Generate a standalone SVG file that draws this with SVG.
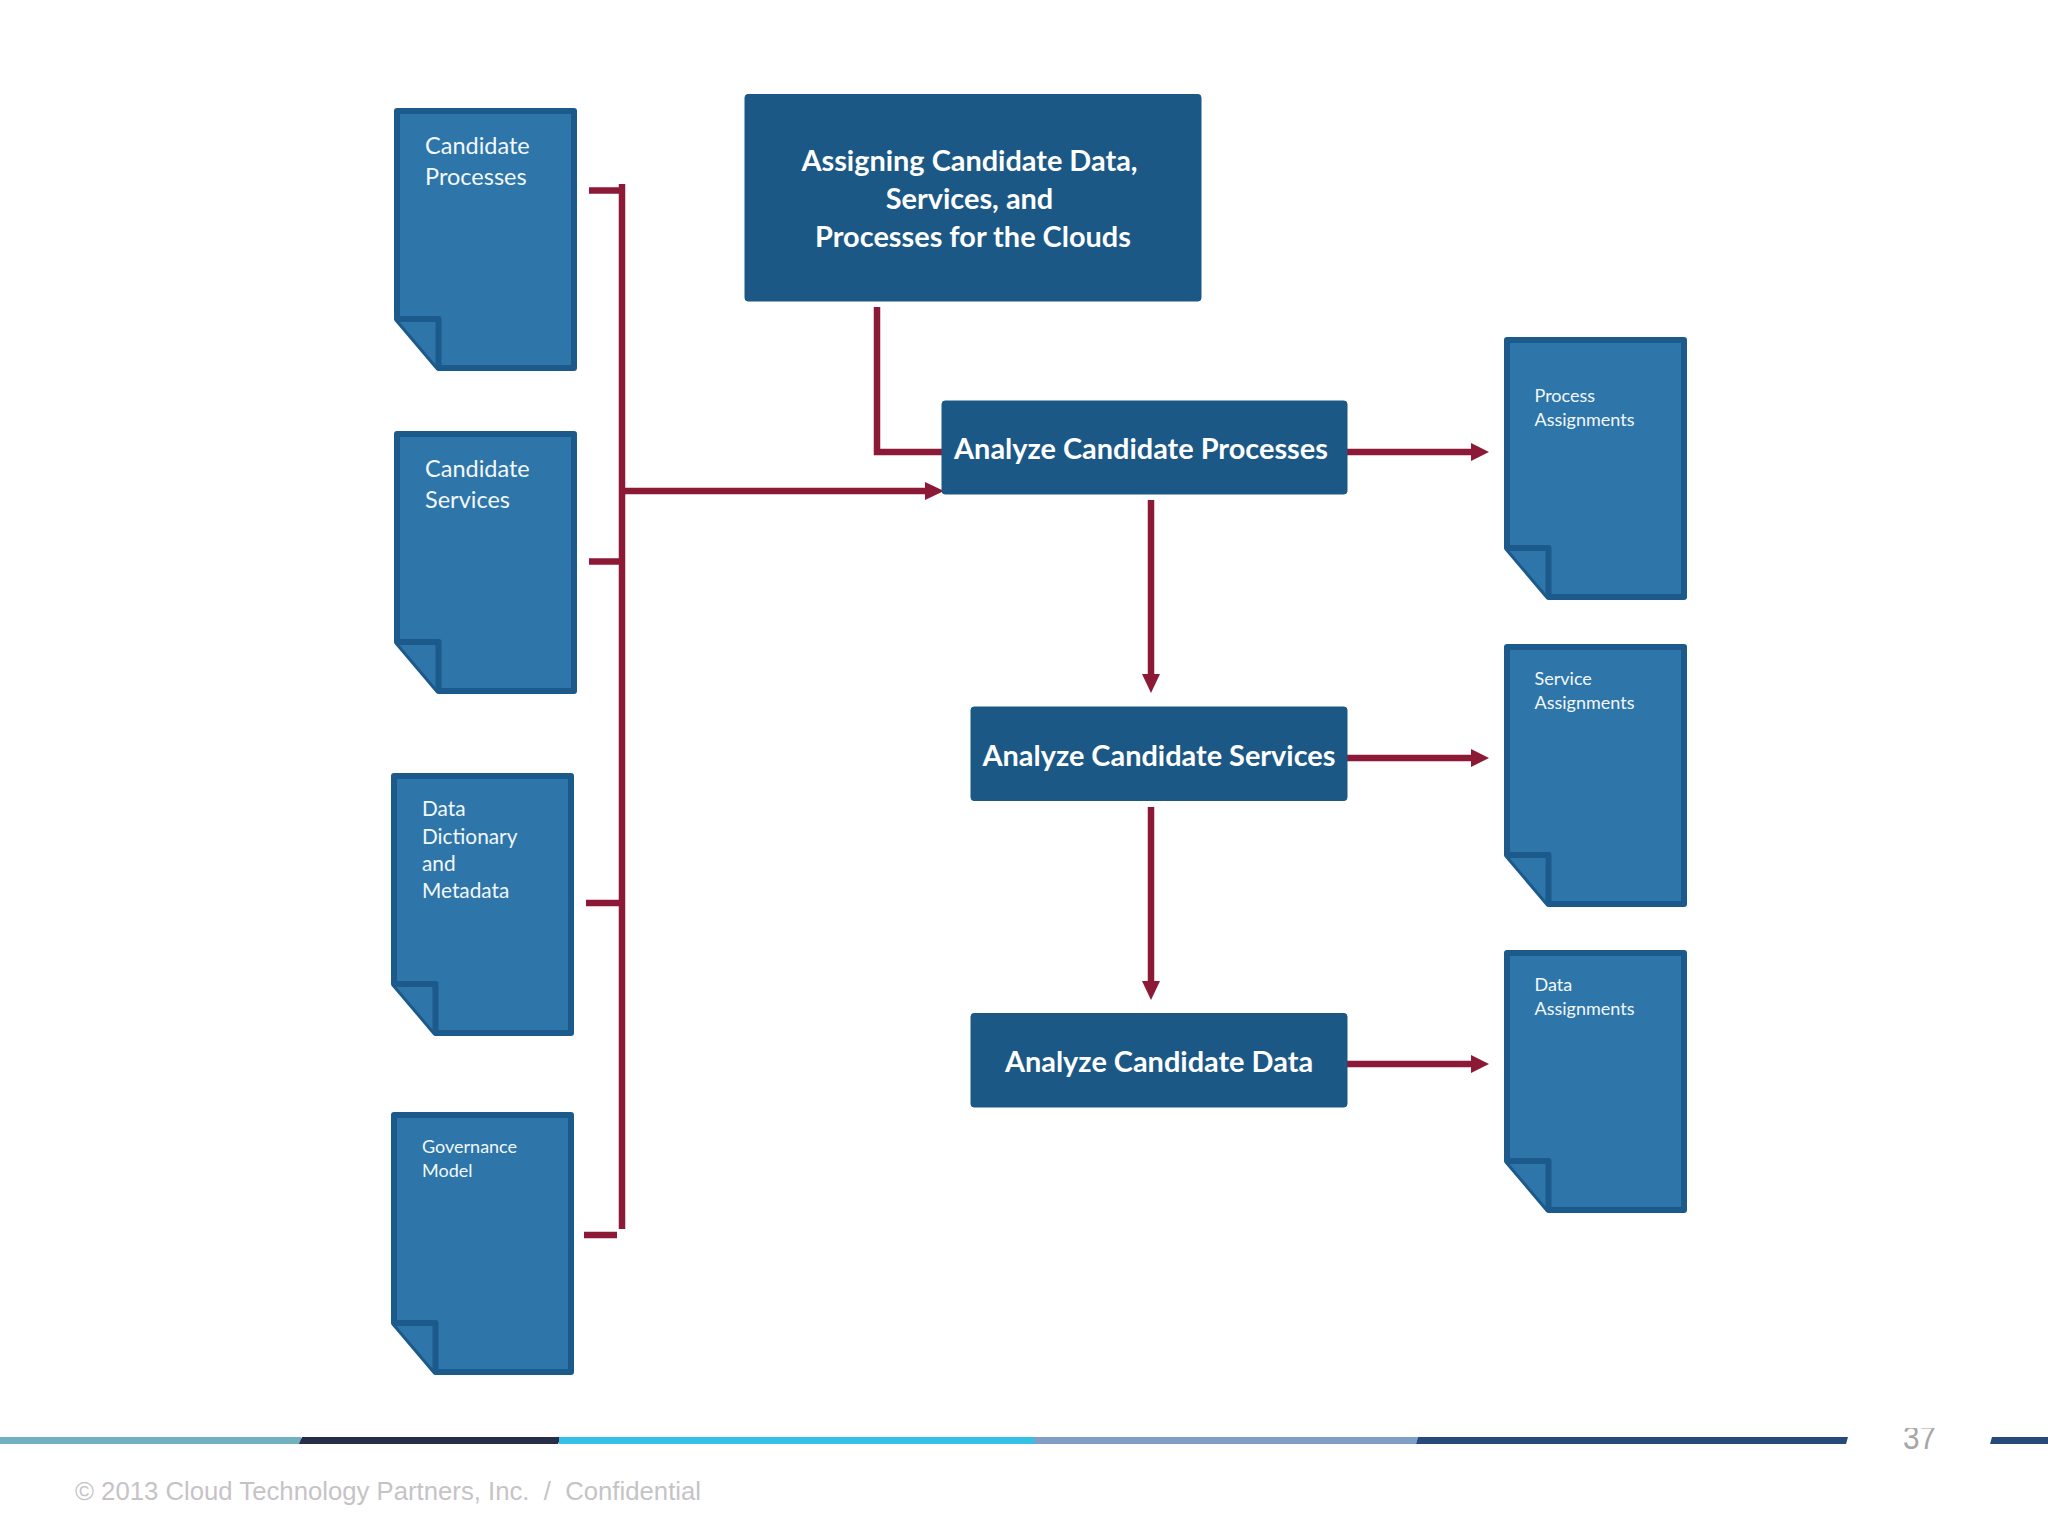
<svg xmlns="http://www.w3.org/2000/svg" width="2048" height="1536" viewBox="0 0 2048 1536">
<style>
.doc{fill:#2e75a9;stroke:#1c5a8b;stroke-width:6;stroke-linejoin:round}
.box{fill:#1b5886;stroke:#1b5886;stroke-width:1}
.t{font-family:"Lato","Open Sans","Liberation Sans",sans-serif;fill:#f2f8fc}
.l24{font-size:23.5px}.l21{font-size:20.8px}.l18{font-size:18px}
.h{font-family:"Lato","Open Sans","Liberation Sans",sans-serif;font-weight:700;font-size:28.9px;fill:#fff;text-anchor:middle}
.c{fill:none;stroke:#8c1a37;stroke-width:6.5}
.a{fill:#8c1a37}
</style>
<defs>
<g id="page">
<path class="doc" d="M3 3H180V260H44.5L3 211Z"/>
<path class="doc" d="M3 211H44.5V260" fill="none"/>
</g>
<clipPath id="numclip"><rect x="1890" y="1428" width="60" height="30"/></clipPath>
</defs>
<rect width="2048" height="1536" fill="#fff"/>
<g id="footer">
<rect x="0" y="1437" width="301" height="7" fill="#73b0bf"/>
<path d="M302 1437H561L558 1444H299Z" fill="#262f47"/>
<rect x="559" y="1437" width="475" height="7" fill="#35c0e6"/>
<path d="M1034 1437H1418L1416 1444H1034Z" fill="#7f9fc6"/>
<path d="M1418 1437H1848L1846 1444H1416Z" fill="#264a79"/>
<path d="M1992 1437H2048V1444H1990Z" fill="#264a79"/>
<g clip-path="url(#numclip)"><text x="1903" y="1449" textLength="33" lengthAdjust="spacingAndGlyphs" font-family="'Liberation Sans',sans-serif" font-size="34" fill="#a7a5a8">37</text></g>
<text x="75" y="1500" textLength="626" lengthAdjust="spacingAndGlyphs" font-family="'Liberation Sans',sans-serif" font-size="25" fill="#c6c3c7">© 2013 Cloud Technology Partners, Inc.&#160; /&#160; Confidential</text>
</g>
<g id="connectors">
<path class="c" d="M622 184V1229"/>
<path class="c" d="M589 190.5H621"/>
<path class="c" d="M589 561.5H621"/>
<path class="c" d="M586 903H621"/>
<path class="c" d="M584 1235H617"/>
<path class="c" d="M621 491H926"/>
<path class="a" d="M925 482L944 491L925 500Z"/>
<path class="c" d="M877 307V452H945"/>
<path class="c" d="M1345 452H1472"/>
<path class="a" d="M1471 443L1489 452L1471 461Z"/>
<path class="c" d="M1345 758H1472"/>
<path class="a" d="M1471 749L1489 758L1471 767Z"/>
<path class="c" d="M1345 1064H1472"/>
<path class="a" d="M1471 1055L1489 1064L1471 1073Z"/>
<path class="c" d="M1151 500V675"/>
<path class="a" d="M1142 674L1151 693L1160 674Z"/>
<path class="c" d="M1151 807V982"/>
<path class="a" d="M1142 981L1151 1000L1160 981Z"/>
</g>
<g id="doc-candidate-processes">
<use href="#page" x="394" y="108"/>
<text class="t l24" x="425" y="153.5">Candidate</text>
<text class="t l24" x="425" y="184.5">Processes</text>
</g>
<g id="doc-candidate-services">
<use href="#page" x="394" y="431"/>
<text class="t l24" x="425" y="476.5">Candidate</text>
<text class="t l24" x="425" y="507.5">Services</text>
</g>
<g id="doc-data-dictionary">
<use href="#page" x="391" y="773"/>
<text class="t l21" x="422" y="816">Data</text>
<text class="t l21" x="422" y="843.5">Dictionary</text>
<text class="t l21" x="422" y="871">and</text>
<text class="t l21" x="422" y="898">Metadata</text>
</g>
<g id="doc-governance-model">
<use href="#page" x="391" y="1112"/>
<text class="t l18" x="422" y="1152.5">Governance</text>
<text class="t l18" x="422" y="1176.5">Model</text>
</g>
<g id="doc-process-assignments">
<use href="#page" x="1504" y="337"/>
<text class="t l18" x="1534.5" y="402">Process</text>
<text class="t l18" x="1534.5" y="426">Assignments</text>
</g>
<g id="doc-service-assignments">
<use href="#page" x="1504" y="644"/>
<text class="t l18" x="1534.5" y="685">Service</text>
<text class="t l18" x="1534.5" y="708.5">Assignments</text>
</g>
<g id="doc-data-assignments">
<use href="#page" x="1504" y="950"/>
<text class="t l18" x="1534.5" y="991">Data</text>
<text class="t l18" x="1534.5" y="1014.5">Assignments</text>
</g>
<g id="node-assigning">
<rect class="box" x="745" y="94.5" width="456" height="206.5" rx="3"/>
<text class="h" x="969.5" y="171">Assigning Candidate Data,</text>
<text class="h" x="969.5" y="208.5">Services, and</text>
<text class="h" x="973" y="246.5">Processes for the Clouds</text>
</g>
<g id="node-analyze-processes">
<rect class="box" x="942" y="401" width="405" height="93" rx="3"/>
<text class="h" x="1141" y="458.5">Analyze Candidate Processes</text>
</g>
<g id="node-analyze-services">
<rect class="box" x="971" y="707" width="376" height="93.5" rx="3"/>
<text class="h" x="1159" y="765.5">Analyze Candidate Services</text>
</g>
<g id="node-analyze-data">
<rect class="box" x="971" y="1013.5" width="376" height="93.5" rx="3"/>
<text class="h" x="1159" y="1071.5">Analyze Candidate Data</text>
</g>
</svg>
